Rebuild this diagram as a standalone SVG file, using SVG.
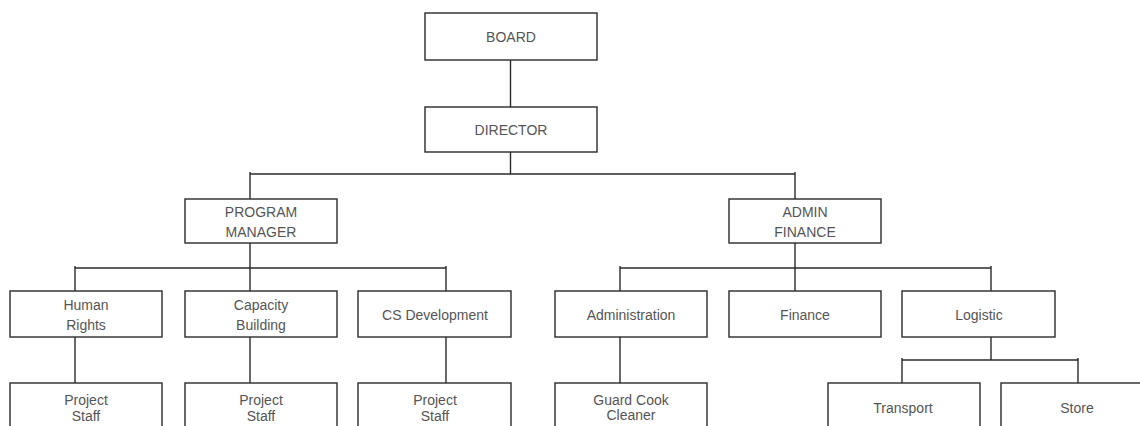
<svg xmlns="http://www.w3.org/2000/svg" width="1140" height="426" viewBox="0 0 1140 426">
<style>
.box{fill:#fff;stroke:#2a2a2a;stroke-width:1.4}
.lbl{font-family:"Liberation Sans",Arial,sans-serif;font-size:14px;fill:#555;text-anchor:middle}
.con line{stroke:#2a2a2a;stroke-width:1.4}
</style>
<rect width="1140" height="426" fill="#fff"/>
<g class="con" id="connectors">
<line x1="510.5" y1="60" x2="510.5" y2="107"/>
<line x1="510.5" y1="152" x2="510.5" y2="174"/>
<line x1="250" y1="174" x2="795" y2="174"/>
<line x1="250" y1="172" x2="250" y2="199"/>
<line x1="795" y1="172" x2="795" y2="199"/>
<line x1="250" y1="243" x2="250" y2="268"/>
<line x1="75" y1="268" x2="446" y2="268"/>
<line x1="75" y1="266" x2="75" y2="291"/>
<line x1="250" y1="268" x2="250" y2="291"/>
<line x1="446" y1="266" x2="446" y2="291"/>
<line x1="795" y1="243" x2="795" y2="268"/>
<line x1="620" y1="268" x2="991" y2="268"/>
<line x1="620" y1="266" x2="620" y2="291"/>
<line x1="795" y1="268" x2="795" y2="291"/>
<line x1="991" y1="266" x2="991" y2="291"/>
<line x1="75" y1="337" x2="75" y2="383"/>
<line x1="250" y1="337" x2="250" y2="383"/>
<line x1="446" y1="337" x2="446" y2="383"/>
<line x1="620" y1="337" x2="620" y2="383"/>
<line x1="991" y1="337" x2="991" y2="360"/>
<line x1="902" y1="360" x2="1078" y2="360"/>
<line x1="902" y1="358" x2="902" y2="383"/>
<line x1="1078" y1="358" x2="1078" y2="383"/>
</g>
<g id="board"><rect class="box" x="425" y="13" width="172" height="47"/><text class="lbl" x="511" y="42">BOARD</text></g>
<g id="director"><rect class="box" x="425" y="107" width="172" height="45"/><text class="lbl" x="511" y="135">DIRECTOR</text></g>
<g id="program-manager"><rect class="box" x="185" y="199" width="152" height="44"/><text class="lbl" x="261" y="217">PROGRAM</text><text class="lbl" x="261" y="237">MANAGER</text></g>
<g id="admin-finance"><rect class="box" x="729" y="199" width="152" height="44"/><text class="lbl" x="805" y="217">ADMIN</text><text class="lbl" x="805" y="237">FINANCE</text></g>
<g id="human-rights"><rect class="box" x="10" y="291" width="152" height="46"/><text class="lbl" x="86" y="310">Human</text><text class="lbl" x="86" y="330">Rights</text></g>
<g id="capacity-building"><rect class="box" x="185" y="291" width="152" height="46"/><text class="lbl" x="261" y="310">Capacity</text><text class="lbl" x="261" y="330">Building</text></g>
<g id="cs-development"><rect class="box" x="358" y="291" width="153" height="46"/><text class="lbl" x="435" y="320">CS Development</text></g>
<g id="administration"><rect class="box" x="555" y="291" width="152" height="46"/><text class="lbl" x="631" y="320">Administration</text></g>
<g id="finance"><rect class="box" x="729" y="291" width="152" height="46"/><text class="lbl" x="805" y="320">Finance</text></g>
<g id="logistic"><rect class="box" x="902" y="291" width="153" height="46"/><text class="lbl" x="979" y="320">Logistic</text></g>
<g id="project-staff-1"><rect class="box" x="10" y="383" width="152" height="48"/><text class="lbl" x="86" y="405">Project</text><text class="lbl" x="86" y="421">Staff</text></g>
<g id="project-staff-2"><rect class="box" x="185" y="383" width="152" height="48"/><text class="lbl" x="261" y="405">Project</text><text class="lbl" x="261" y="421">Staff</text></g>
<g id="project-staff-3"><rect class="box" x="358" y="383" width="153" height="48"/><text class="lbl" x="435" y="405">Project</text><text class="lbl" x="435" y="421">Staff</text></g>
<g id="guard-cook-cleaner"><rect class="box" x="555" y="383" width="152" height="48"/><text class="lbl" x="631" y="405">Guard Cook</text><text class="lbl" x="631" y="420">Cleaner</text></g>
<g id="transport"><rect class="box" x="828" y="383" width="152" height="48"/><text class="lbl" x="903" y="413">Transport</text></g>
<g id="store"><rect class="box" x="1001" y="383" width="152" height="48"/><text class="lbl" x="1077" y="413">Store</text></g>
</svg>
